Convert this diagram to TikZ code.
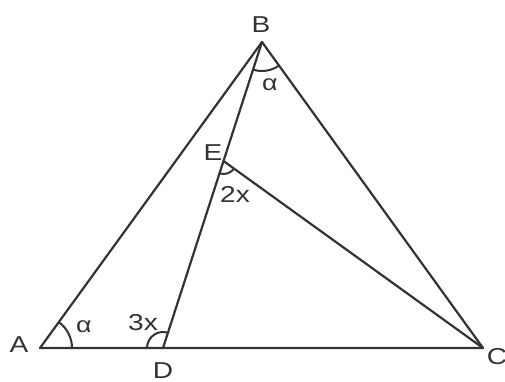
\documentclass[tikz,border=0pt]{standalone}
\usepackage{fontspec}
\setmainfont{Liberation Sans}[FakeStretch=1.22]
\begin{document}
\begin{tikzpicture}[x=1pt,y=-1pt,
  seg/.style={draw=black!80, line width=2.2pt, line cap=round, line join=round},
  arcmark/.style={draw=black!80, line width=2pt},
  lbl/.style={font=\fontsize{23}{25}\selectfont, text=black!80, inner sep=0pt},
  ang/.style={font=\fontsize{22}{24}\selectfont, text=black!80, inner sep=0pt}]
\useasboundingbox (0,0) rectangle (505,381);
\coordinate (A) at (40,348);
\coordinate (D) at (163,348);
\coordinate (B) at (262,42);
\coordinate (C) at (483,348);
\coordinate (E) at (223.5,161);
% triangle and cevians
\draw[seg] (A) -- (B) -- (C) -- cycle;
\draw[seg] (B) -- (D);
\draw[seg] (E) -- (C);
% angle marks
\draw[arcmark] (A) ++(0:32) arc[start angle=0, end angle=-54, radius=32];
\draw[arcmark] (D) ++(180:16) arc[start angle=180, end angle=287.9, radius=16];
\draw[arcmark] (B) ++(54.2:29) arc[start angle=54.2, end angle=107.9, radius=29];
\draw[arcmark] (E) ++(35.8:13) arc[start angle=35.8, end angle=107.9, radius=13];
% labels
\node[lbl] (lA) at (19,345) {A};
\node[lbl] (lB) at (261,25) {B};
\node[lbl] (lC) at (497,357) {C};
\node[lbl] (lD) at (163,371) {D};
\node[lbl] (lE) at (213,153) {E};
\node[ang] (aA) at (84,327) {α};
\node[ang] (aB) at (270,85) {α};
\node[lbl] (x3) at (143,323) {3x};
\node[lbl] (x2) at (235,194) {2x};
\end{tikzpicture}
\end{document}
